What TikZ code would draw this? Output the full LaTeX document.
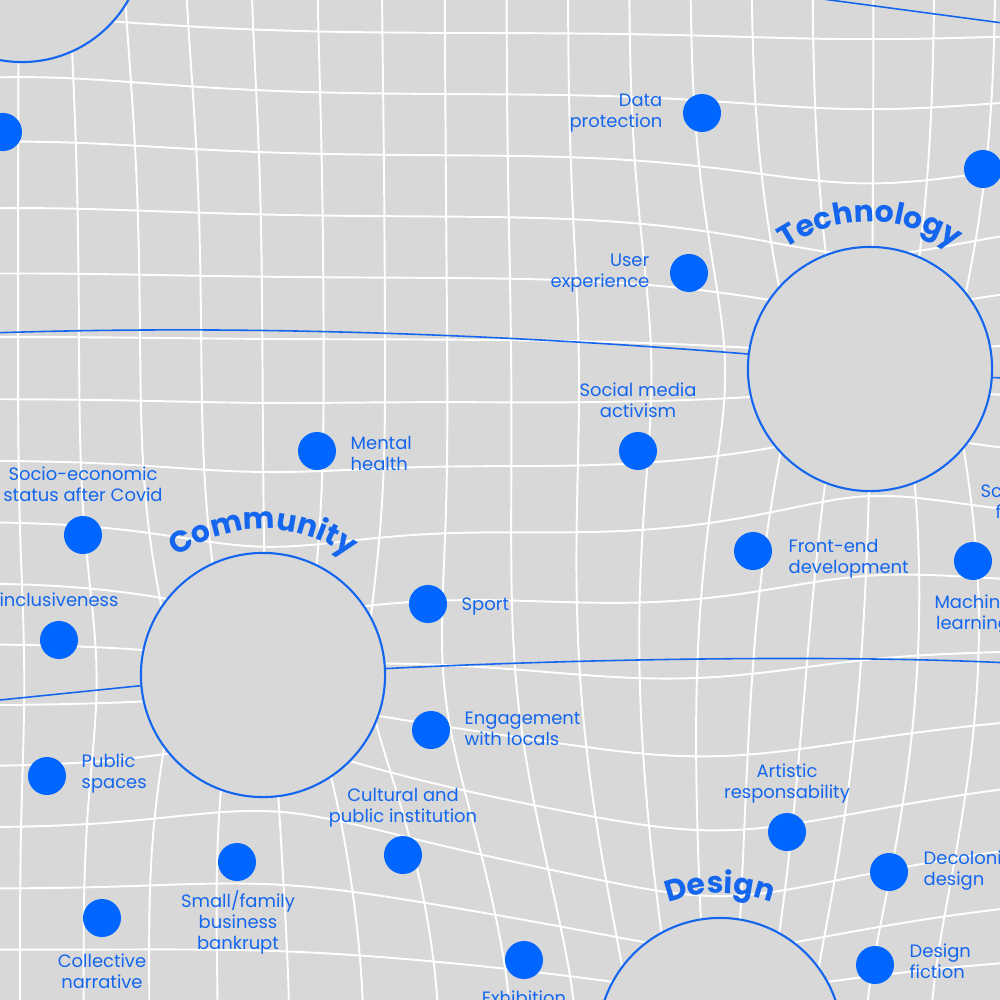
\documentclass[tikz,border=0pt]{standalone}
\usepackage{fontspec}
\setmainfont{Poppins}
\usetikzlibrary{decorations.text}
\definecolor{bg}{HTML}{D8D8D8}
\definecolor{tblue}{HTML}{1466EE}
\definecolor{dblue}{HTML}{0066FF}
\newcommand\labfont{\fontsize{5.1pt}{5.97pt}\selectfont}
\newcommand\titfont{\bfseries\fontsize{8.5pt}{8.5pt}\selectfont}
% grid distortion: attraction towards the four big circles
\newcommand\gridpt[2]{%
  \edef\gfA{\fpeval{0.2*exp(-((#1-22)^2+(#2+60)^2)/40000)}}%
  \edef\gfB{\fpeval{0.5*exp(-((#1-870)^2+(#2-369)^2)/34225)}}%
  \edef\gfC{\fpeval{0.5*exp(-((#1-263)^2+(#2-675)^2)/19600)}}%
  \edef\gfD{\fpeval{0.52*exp(-((#1-720)^2+(#2-1040)^2)/96000)}}%
  \edef\gx{\fpeval{round(#1-(#1-22)*\gfA-(#1-870)*\gfB-(#1-263)*\gfC-(#1-720)*\gfD,2)}}%
  \edef\gy{\fpeval{round(#2-(#2+60)*\gfA-(#2-369)*\gfB-(#2-675)*\gfC-(#2-1040)*\gfD,2)}}%
}
\newcommand\gridV[1]{%
  \gdef\gpath{}%
  \foreach \t in {-150,-135,...,1150}{%
    \gridpt{#1}{\t}%
    \xdef\gpath{\gpath\ifx\gpath\empty\else--\fi(\gx,\gy)}%
  }%
  \draw[gridline] \gpath;%
}
\newcommand\gridH[1]{%
  \gdef\gpath{}%
  \foreach \t in {-150,-135,...,1150}{%
    \gridpt{\t}{#1}%
    \xdef\gpath{\gpath\ifx\gpath\empty\else--\fi(\gx,\gy)}%
  }%
  \draw[gridline] \gpath;%
}
\tikzset{
  gridline/.style={white, line width=0.55pt, line join=round},
  link/.style={tblue, line width=0.45pt},
  bigc/.style={circle, draw=tblue, fill=bg, line width=0.6pt, minimum size=2.44cm, inner sep=0pt},
  dot/.style={circle, fill=dblue, minimum size=0.38cm, inner sep=0pt},
  lab/.style={text=tblue, font=\labfont, inner sep=0pt},
  arctitle/.style={decorate, decoration={text along path, text align=center, text color=tblue, text={|\titfont|#1}}}
}
\begin{document}
\begin{tikzpicture}[x=0.01cm, y=-0.01cm]
\useasboundingbox (0,0) rectangle (1000,1000);
\clip (0,0) rectangle (1000,1000);
\fill[bg] (0,0) rectangle (1000,1000);
% distorted grid
\foreach \k in {-3,...,19}{%
  \pgfmathsetmacro\gX{18+61.1*\k}%
  \gridV{\gX}%
  \pgfmathsetmacro\gY{33+61.1*\k}%
  \gridH{\gY}%
}
% big circles
\node[bigc] (topc) at (22,-60) {};
\node[bigc] (tech) at (870,369) {};
\node[bigc] (comm) at (263,675) {};
\node[bigc] (desg) at (720,1040) {};
% free ends of links
\coordinate (e1) at (800,-4);
\coordinate (e2) at (1010,24);
\coordinate (e3) at (-10,333);
\coordinate (e4) at (1010,378);
\coordinate (e5) at (-10,701);
\coordinate (e6) at (1010,663);
\draw[link] (e1) -- (e2);
\draw[link] (e3) .. controls (200,326) and (450,330) .. (tech.173);
\draw[link] (tech.-4) -- (e4);
\draw[link] (e5) -- (comm.185);
\draw[link] (comm.3) .. controls (600,658) and (850,655) .. (e6);
% arc titles
\path[arctitle=Technology] plot[domain=160:20, samples=60] ({870+147*cos(\x)},{369-147*sin(\x)});
\path[arctitle=Community] plot[domain=160:20, samples=60] ({263+146*cos(\x)},{675-146*sin(\x)});
\path[arctitle=Design] plot[domain=160:20, samples=60] ({720+147*cos(\x)},{1040-147*sin(\x)});
% dots
\node[dot] (d1) at (3,132) {};
\node[dot] (d2) at (702,113) {};
\node[dot] (d3) at (983,169) {};
\node[dot] (d4) at (689,273) {};
\node[dot] (d5) at (638,451) {};
\node[dot] (d6) at (317,451) {};
\node[dot] (d7) at (83,535) {};
\node[dot] (d8) at (59,640) {};
\node[dot] (d9) at (428,604) {};
\node[dot] (d10) at (753,551) {};
\node[dot] (d11) at (973,561) {};
\node[dot] (d12) at (431,730) {};
\node[dot] (d13) at (47,776) {};
\node[dot] (d14) at (403,855) {};
\node[dot] (d15) at (237,862) {};
\node[dot] (d16) at (102,918) {};
\node[dot] (d17) at (787,832) {};
\node[dot] (d18) at (889,872) {};
\node[dot] (d19) at (875,965) {};
\node[dot] (d20) at (524,960) {};
% labels (anchor = baseline of the last line)
\node[lab, anchor=base east, align=right] (l2) at (663,127) {Data\\protection};
\node[lab, anchor=base east, align=right] (l4) at (650,287) {User\\experience};
\node[lab, anchor=base, align=center] (l5) at (638,417) {Social media\\activism};
\node[lab, anchor=base west, align=left] (l6) at (350,470) {Mental\\health};
\node[lab, anchor=base, align=center] (l7) at (83,501) {Socio-economic\\status after Covid};
\node[lab, anchor=base] (l8) at (59,606) {inclusiveness};
\node[lab, anchor=base west] (l9) at (461,610) {Sport};
\node[lab, anchor=base west, align=left] (l10) at (788,573) {Front-end\\development};
\node[lab, anchor=base, align=center] (l11) at (973,629) {Machine\\learning};
\node[lab, anchor=base west, align=left] (lsf) at (980,518) {Science\\\hspace*{0.15cm}fiction};
\node[lab, anchor=base west, align=left] (l12) at (464,745) {Engagement\\with locals};
\node[lab, anchor=base west, align=left] (l13) at (81,788) {Public\\spaces};
\node[lab, anchor=base, align=center] (l14) at (403,822) {Cultural and\\public institution};
\node[lab, anchor=base, align=center] (l15) at (238,949) {Small/family\\business\\bankrupt};
\node[lab, anchor=base, align=center] (l16) at (102,988) {Collective\\narrative};
\node[lab, anchor=base, align=center] (l17) at (787,798) {Artistic\\responsability};
\node[lab, anchor=base west, align=left] (l18) at (923,885) {Decolonial\\design};
\node[lab, anchor=base west, align=left] (l19) at (909,978) {Design\\fiction};
\node[lab, anchor=base] (l20) at (524,1004) {Exhibition};
\end{tikzpicture}
\end{document}
